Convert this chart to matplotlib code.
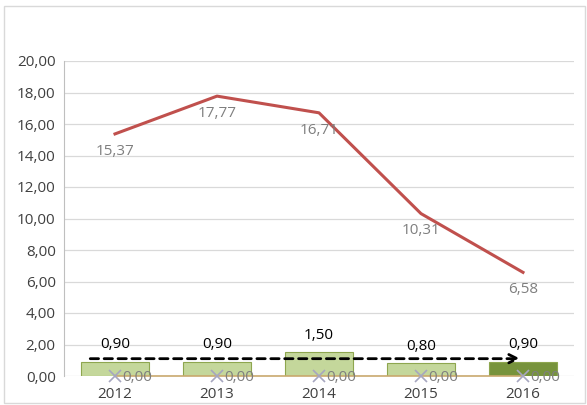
import numpy as np
import matplotlib.pyplot as plt
from matplotlib.patches import Rectangle

years = ['2012', '2013', '2014', '2015', '2016']
line_vals = [15.37, 17.77, 16.71, 10.31, 6.58]
bar_vals = [0.90, 0.90, 1.50, 0.80, 0.90]
zero_vals = [0.00, 0.00, 0.00, 0.00, 0.00]
trend_y = 1.1

def fmt(v):
    return ('%.2f' % v).replace('.', ',')

plt.rcParams['font.family'] = ['Open Sans', 'DejaVu Sans']

fig = plt.figure(figsize=(5.87, 4.05), dpi=100)
fig.patches.append(Rectangle((0.007, 0.005), 0.989, 0.98, transform=fig.transFigure,
                             fill=False, edgecolor='#d9d9d9', lw=1))
ax = fig.add_axes([64/587, 29/405, 510/587, 315/405])

x = np.arange(len(years))
bar_cols = ['#c4d79b'] * 4 + ['#77933c']
ax.bar(x, bar_vals, width=0.67, color=bar_cols, edgecolor='#8ea64f', lw=0.8, zorder=2)
for xi, v in zip(x, bar_vals):
    ax.annotate(fmt(v), (xi, v), xytext=(0, 7), textcoords='offset points',
                ha='center', va='bottom', fontsize=11, color='black')

ax.plot(x, line_vals, color='#c0504d', lw=2.2, zorder=3)
for xi, v in zip(x, line_vals):
    ax.annotate(fmt(v), (xi, v), xytext=(0, -7), textcoords='offset points',
                ha='center', va='top', fontsize=11, color='#7f7f7f')

ax.plot(x, zero_vals, color='#c9a96e', lw=1.2, marker='x', ms=9, mec='#a6a6bf',
        mew=1.2, zorder=4, clip_on=False)
for xi, v in zip(x, zero_vals):
    ax.annotate(fmt(v), (xi, v), xytext=(5, -1), textcoords='offset points',
                ha='left', va='center', fontsize=11, color='#7f7f7f', zorder=5)

ax.annotate('', xy=(4.0, trend_y), xytext=(-0.27, trend_y),
            arrowprops=dict(arrowstyle='->', color='black', lw=2, ls=(0, (3, 2)),
                            mutation_scale=15), zorder=6)

ax.set_xlim(-0.5, 4.5)
ax.set_ylim(0, 20)
ax.set_yticks(np.arange(0, 21, 2))
ax.set_yticklabels([fmt(v) for v in np.arange(0, 21, 2)])
ax.set_xticks(x)
ax.set_xticklabels(years)
ax.yaxis.grid(True, color='#d9d9d9', lw=0.9)
ax.set_axisbelow(True)
for s in ['top', 'right', 'bottom']:
    ax.spines[s].set_visible(False)
ax.spines['left'].set_color('#bfbfbf')
ax.tick_params(axis='both', length=0, labelsize=11, colors='#404040', pad=6)
ax.tick_params(axis='x', pad=8)

fig.savefig('out.png', dpi=100)
